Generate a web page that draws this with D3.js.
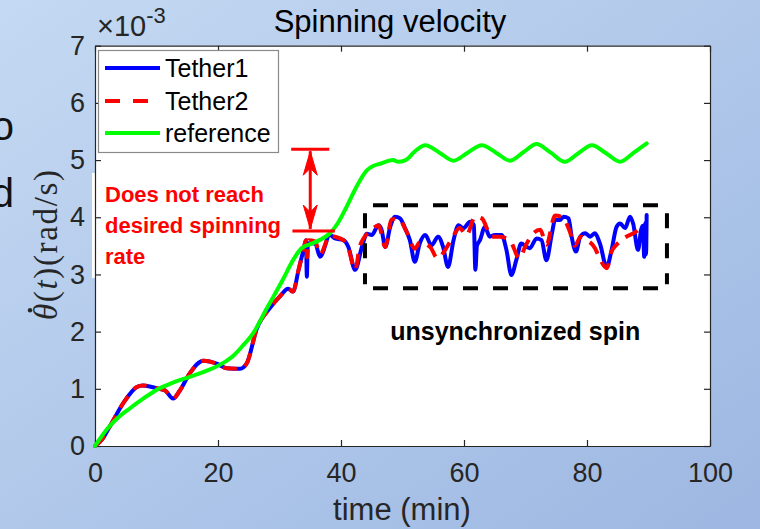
<!DOCTYPE html>
<html><head><meta charset="utf-8">
<script src="https://cdn.jsdelivr.net/npm/d3@7"></script>
<style>
html,body{margin:0;padding:0;}
svg{display:block;}
</style>
</head><body>
<svg id="chart" width="760" height="529"></svg>
<script>
// ---- data (time in min, value in 1e-3 rad/s) ----
const tether1T = [0,1.2,2.4,4.6,6.8,7.8,10,11.4,12.7,13.8,15.4,17.6,19.8,21.4,23.6,24.7,26.3,28.5,30.1,31.4,32.2,33.1,33.9,34.3,34.45,34.6,35.8,36.6,38.2,39,40.4,41.2,42.3,43.4,44.2,45,46.1,46.6,47.2,48,48.8,49.6,50.4,51.2,52,52.8,53.7,54.7,55.8,56.6,57.4,58.3,59.1,59.9,61,61.6,61.85,62.1,62.6,63.4,64.2,65,66.1,66.9,67.7,68.5,69.3,70.2,70.7,71.8,72.6,73.4,74.3,74.8,75.6,76.2,77,77.5,78.2,78.9,79.7,80.5,81.3,82.1,83.2,84,84.8,85.4,86.2,87,87.5,88.3,88.8,89.1,89.3,89.5,89.6,89.7];
const tether1V = [0,0.12,0.34,0.75,1.03,1.06,1.01,0.97,0.83,0.97,1.27,1.49,1.44,1.36,1.35,1.45,2.05,2.42,2.62,2.75,2.70,3.08,3.43,3.6,2.96,3.55,3.54,3.31,3.69,3.63,3.6,3.48,3.08,3.48,3.71,3.69,3.86,3.78,3.48,3.83,4.01,3.98,3.81,3.6,3.22,3.54,3.69,3.51,3.66,3.48,3.13,3.6,3.86,3.81,3.92,3.86,3.08,3.5,3.6,3.83,3.66,3.69,3.69,3.43,2.99,3.25,3.54,3.48,3.46,3.63,3.6,3.25,3.72,3.95,3.95,4.01,3.98,3.66,3.4,3.66,3.72,3.66,3.72,3.54,3.13,3.43,3.83,3.89,3.81,4.01,3.89,3.43,3.78,3.85,3.31,3.9,3.35,4.04];

const tether2T = [0,1.2,2.4,4.6,6.8,7.8,10,11.4,12.7,13.8,15.4,17.6,19.8,21.4,23.6,24.7,26.3,28.5,30.1,31.4,32.2,33.1,33.9,34.3,34.5,34.7,35.8,36.6,38.2,39,40.4,41.2,42.3,43.1,45,46.1,47.2,48.2,49.3,50.7,52,52.8,54.5,55.7,57,58,59.3,60.4,61.8,62.9,64.5,65.9,67.6,69,70,71.3,72.4,73.4,74.8,76,77.2,78,79,80,81.3,82.1,83.2,84,84.8,85.6,86.4,88,89];
const tether2V = [0,0.12,0.34,0.75,1.03,1.06,1.01,0.97,0.83,0.97,1.27,1.49,1.44,1.36,1.35,1.45,2.05,2.42,2.62,2.75,2.70,3.08,3.43,3.6,3.3,3.6,3.58,3.35,3.68,3.66,3.6,3.45,3.08,3.51,3.78,3.86,3.48,3.96,3.98,3.74,3.45,3.56,3.48,3.28,3.44,3.62,3.81,3.68,4.01,3.98,3.66,3.66,3.57,3.28,3.5,3.72,3.78,3.52,4.03,4.0,3.75,3.5,3.66,3.6,3.46,3.27,3.11,3.4,3.52,3.6,3.66,3.75,3.86];

const referenceT = [0,2,4,5.7,8,10,12.5,15.4,18,20.8,22.5,24,25.7,27.9,30.6,32.2,33.5,35,36.5,38.2,39.5,40.9,42.5,44.2,45.3,46.5,48.5,49.3,50.5,52,53.7,56,58.3,60.6,62.9,65.2,67.5,69.7,71.8,74.1,76.4,78.6,80.8,83.1,85.4,87.5,89.7];
const referenceV = [0,0.3,0.52,0.66,0.84,0.98,1.1,1.21,1.31,1.45,1.58,1.75,1.97,2.4,2.92,3.25,3.45,3.53,3.6,3.72,3.9,4.18,4.53,4.82,4.9,4.94,5.0,4.97,5.0,5.15,5.26,5.13,4.99,5.13,5.26,5.13,4.99,5.14,5.28,5.13,4.97,5.12,5.26,5.12,4.97,5.12,5.29];

const xTicks = [0,20,40,60,80,100];
const yTicks = [0,1,2,3,4,5,6,7];
const seriesNames = ["Tether1","Tether2","reference"];
const titleText = "Spinning velocity";
const xLabelText = "time (min)";
const noteLines = ["Does not reach","desired spinning","rate"];
const boxNote = "unsynchronized spin";
// annotation anchors in data units
const gapArrow = {t:35, top:5.19, bottom:3.76};
const unsyncBox = {t0:43.9, t1:93.0, v0:2.76, v1:4.21};

// ---- drawing ----
const svg = d3.select("#chart");
const defs = svg.append("defs");
const grad = defs.append("linearGradient").attr("id","bg").attr("x1","0").attr("y1","0").attr("x2","1").attr("y2","1");
grad.append("stop").attr("offset","0").attr("stop-color","#c4d9f2");
grad.append("stop").attr("offset","1").attr("stop-color","#9db7e2");
svg.append("rect").attr("width",760).attr("height",529).attr("fill","url(#bg)");

// clipped slide letters on the left
svg.append("text").attr("x",14).attr("y",140).attr("text-anchor","end")
  .attr("font-family","Liberation Sans, Arial, sans-serif").attr("font-size",40).attr("fill","#111").text("o");
svg.append("text").attr("x",14).attr("y",207).attr("text-anchor","end")
  .attr("font-family","Liberation Sans, Arial, sans-serif").attr("font-size",40).attr("fill","#111").text("d");

const L=95, R=710, T=45.7, B=446;
const x = d3.scaleLinear().domain([0,100]).range([L,R]);
const y = d3.scaleLinear().domain([0,7]).range([B,T]);

// annotation white textbox edge (left of axis)
svg.append("rect").attr("x",92).attr("y",173).attr("width",4).attr("height",105).attr("fill","#fff");
svg.append("rect").attr("x",L).attr("y",T).attr("width",R-L).attr("height",B-T).attr("fill","#fff");

const axisColor = "#262626";
const tickFont = "Liberation Sans, Arial, sans-serif";

function styleAxis(g){
  g.selectAll("path.domain").attr("stroke",axisColor).attr("stroke-width",1.2);
  g.selectAll(".tick line").attr("stroke",axisColor).attr("stroke-width",1.2);
  g.selectAll(".tick text").attr("fill",axisColor).attr("font-size",27).attr("font-family",tickFont);
}
const gx = svg.append("g").attr("transform",`translate(0,${B})`)
  .call(d3.axisBottom(x).tickValues(xTicks).tickSize(-6).tickSizeOuter(0).tickPadding(17).tickFormat(d3.format("d")));
styleAxis(gx);
const gy = svg.append("g").attr("transform",`translate(${L},0)`)
  .call(d3.axisLeft(y).tickValues(yTicks).tickSize(-6).tickSizeOuter(0).tickPadding(10).tickFormat(d3.format("d")));
styleAxis(gy);
const gt = svg.append("g").attr("transform",`translate(0,${T})`)
  .call(d3.axisTop(x).tickValues(xTicks).tickSize(-6).tickSizeOuter(0).tickFormat(""));
styleAxis(gt);
const gr = svg.append("g").attr("transform",`translate(${R},0)`)
  .call(d3.axisRight(y).tickValues(yTicks).tickSize(-6).tickSizeOuter(0).tickFormat(""));
styleAxis(gr);

// exponent label
const ex = svg.append("text").attr("x",97).attr("y",36).attr("font-family",tickFont).attr("fill",axisColor);
ex.append("tspan").attr("font-size",29).text("\u00d710");
ex.append("tspan").attr("font-size",22).attr("dy",-13).text("-3");

const line = d3.line().x(d=>x(d[0])).y(d=>y(d[1])).curve(d3.curveMonotoneX);
const s1 = tether1T.map((t,i)=>[t,tether1V[i]]);
const s2 = tether2T.map((t,i)=>[t,tether2V[i]]);
const s3 = referenceT.map((t,i)=>[t,referenceV[i]]);
const colors = ["#0000ff","#ff0000","#00ff00"];

const plot = svg.append("g");
plot.append("path").datum(s1).attr("d",line).attr("fill","none").attr("stroke",colors[0]).attr("stroke-width",4).attr("stroke-linejoin","round").attr("stroke-linecap","round");
plot.append("path").datum(s2).attr("d",line).attr("fill","none").attr("stroke",colors[1]).attr("stroke-width",4).attr("stroke-dasharray","14,9").attr("stroke-linejoin","round");
plot.append("path").datum(s3).attr("d",line).attr("fill","none").attr("stroke",colors[2]).attr("stroke-width",4).attr("stroke-linejoin","round").attr("stroke-linecap","round");

// dashed box
const bx0=x(unsyncBox.t0), bx1=x(unsyncBox.t1), by0=y(unsyncBox.v1), by1=y(unsyncBox.v0);
const boxG = svg.append("g").attr("stroke","#000").attr("stroke-width",4).attr("stroke-dasharray","15,15");
boxG.append("line").attr("x1",bx0+8).attr("x2",bx1-8).attr("y1",by0).attr("y2",by0);
boxG.append("line").attr("x1",bx0+8).attr("x2",bx1-8).attr("y1",by1).attr("y2",by1);
boxG.append("line").attr("x1",bx0).attr("x2",bx0).attr("y1",by0+8).attr("y2",by1-4);
boxG.append("line").attr("x1",bx1).attr("x2",bx1).attr("y1",by0+8).attr("y2",by1-4);

svg.append("text").attr("x",x(48.0)).attr("y",340).attr("font-family",tickFont).attr("font-weight","bold")
  .attr("font-size",25).attr("fill","#000").text(boxNote);

// red arrow
const ax = x(gapArrow.t), ayT = y(gapArrow.top), ayB = y(gapArrow.bottom);
const arr = svg.append("g").attr("stroke","#ff0000").attr("stroke-width",3).attr("fill","#ff0000");
arr.append("line").attr("x1",x(31.9)).attr("x2",x(38.1)).attr("y1",ayT).attr("y2",ayT);
arr.append("line").attr("x1",x(32.1)).attr("x2",x(39.0)).attr("y1",ayB).attr("y2",ayB);
arr.append("line").attr("x1",ax).attr("x2",ax).attr("y1",ayT+2).attr("y2",ayB-2);
arr.append("path").attr("stroke-width",1).attr("d",`M${ax},${ayT+2} L${ax-7},${ayT+26} L${ax},${ayT+19} L${ax+7},${ayT+26} Z`);
arr.append("path").attr("stroke-width",1).attr("d",`M${ax},${ayB-2} L${ax-7},${ayB-26} L${ax},${ayB-19} L${ax+7},${ayB-26} Z`);

const note = svg.append("text").attr("font-family",tickFont).attr("font-weight","bold").attr("font-size",22).attr("fill","#ff0000");
noteLines.forEach((s,i)=>note.append("tspan").attr("x",105).attr("y",202+i*31).text(s));

// legend
const lg = svg.append("g");
lg.append("rect").attr("x",98.5).attr("y",50.5).attr("width",180).attr("height",102).attr("fill","#fff").attr("stroke","#8a8a8a").attr("stroke-width",1.2);
const ly = [68,101,133];
seriesNames.forEach((n,i)=>{
  const l = lg.append("line").attr("x1",105).attr("x2",160).attr("y1",ly[i]).attr("y2",ly[i]).attr("stroke",colors[i]).attr("stroke-width",4);
  if(i===1) l.attr("stroke-dasharray","15,13");
  lg.append("text").attr("x",165).attr("y",ly[i]+9).attr("font-family",tickFont).attr("font-size",25).attr("fill","#000").text(n);
});

// title & labels
svg.append("text").attr("x",390).attr("y",32).attr("text-anchor","middle").attr("font-family",tickFont)
  .attr("font-size",31).attr("fill","#000").text(titleText);
svg.append("text").attr("x",402).attr("y",520).attr("text-anchor","middle").attr("font-family",tickFont)
  .attr("font-size",31).attr("fill",axisColor).text(xLabelText);

// y label (rotated), with a dot over theta
const ylg = svg.append("g").attr("transform","translate(57,245) rotate(-90)");
const yl = ylg.append("text").attr("x",0).attr("y",0)
  .attr("font-family","Liberation Serif, DejaVu Serif, serif").attr("font-size",33).attr("fill",axisColor);
yl.append("tspan").attr("font-style","italic").text("\u03b8");
yl.append("tspan").text("(");
yl.append("tspan").attr("font-style","italic").text("t");
yl.append("tspan").text(")(rad/s)");
const targetLen = 150;
yl.attr("textLength",targetLen).attr("lengthAdjust","spacing").attr("x",-targetLen/2);
try {
  const ext = yl.node().getExtentOfChar(0);
  ylg.append("circle").attr("cx",ext.x+ext.width*0.6).attr("cy",ext.y+2).attr("r",2.2).attr("fill",axisColor);
} catch(e) {
  ylg.append("circle").attr("cx",-targetLen/2+9).attr("cy",-27).attr("r",2.2).attr("fill",axisColor);
}
</script>
</body></html>
